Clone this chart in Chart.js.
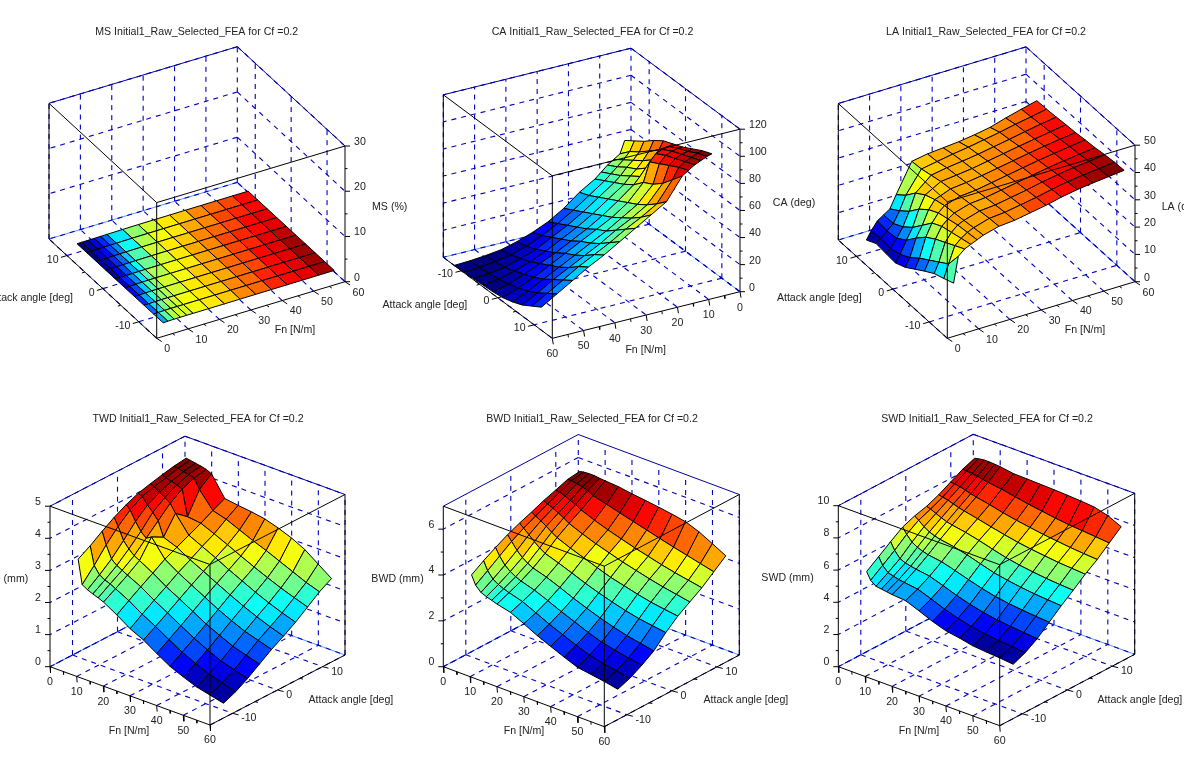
<!DOCTYPE html>
<html>
<head>
<meta charset="utf-8">
<title>Initial1_Raw_Selected_FEA</title>
<script src="https://cdn.jsdelivr.net/npm/chart.js@4/dist/chart.umd.min.js"></script>
<style>
html, body { margin: 0; padding: 0; background: #fff; overflow: hidden; }
canvas { display: block; }
</style>
</head>
<body>
<canvas id="surfaces" width="1184" height="774"></canvas>
<script>
// grid of the surfaces
const fnValues = [5.5, 7, 9, 11, 13, 15, 20, 25, 30, 35, 40, 45, 50, 55, 60];
const angleValues = [-12, -9.33, -6.67, -4, -1.33, 1.33, 4, 6.67, 9.33, 12];

// tick labels
const fnTicks = [0, 10, 20, 30, 40, 50, 60];
const angleTicks = [-10, 0, 10];
const msTicks = [0, 10, 20, 30];
const caTicks = [0, 20, 40, 60, 80, 100, 120];
const laTicks = [0, 10, 20, 30, 40, 50];
const twdTicks = [0, 1, 2, 3, 4, 5];
const bwdTicks = [0, 2, 4, 6];
const swdTicks = [0, 2, 4, 6, 8, 10];

// one row per attack angle, one column per Fn value
const msValues = [
  [.09, .126, .168, .174, .18, .186, .192, .201, .216, .228, .24, .255, .264, .279, .3],
  [.072, .102, .15, .168, .174, .18, .189, .201, .213, .225, .24, .252, .264, .279, .3],
  [.054, .081, .126, .156, .168, .174, .186, .198, .21, .225, .237, .252, .264, .276, .3],
  [.039, .06, .096, .135, .156, .168, .183, .195, .21, .222, .237, .249, .261, .276, .3],
  [.027, .045, .075, .111, .141, .159, .18, .192, .207, .219, .234, .249, .261, .273, .285],
  [.021, .033, .057, .09, .12, .144, .174, .189, .204, .216, .231, .246, .258, .27, .279],
  [.015, .027, .045, .072, .099, .126, .165, .186, .201, .213, .228, .24, .252, .264, .273],
  [.012, .021, .036, .057, .081, .108, .156, .18, .195, .21, .222, .237, .249, .258, .27],
  [.009, .018, .03, .048, .069, .09, .144, .171, .186, .201, .216, .228, .24, .252, .264],
  [.006, .018, .03, .042, .06, .078, .132, .165, .18, .195, .21, .222, .234, .246, .258]
];
const caValues = [
  [61, 52, 49, 46, 42, 38, 31, 22, 15, 10, 6, 3, 1.5, .5, 0],
  [66, 59, 54, 50, 46, 42, 34, 26, 19, 13, 8, 4.5, 2.3, 1, .4],
  [71, 64, 59, 55, 50, 46, 38, 30, 23, 17, 11, 7, 3.5, 1.8, .8],
  [77, 70, 64, 59, 55, 50, 42, 34, 27, 21, 15, 10, 6, 3, 1.3],
  [82, 76, 70, 65, 60, 55, 46, 38, 31, 25, 19, 14, 9, 4.5, 1.8],
  [85, 84, 83, 81, 76, 62, 50, 42, 36, 30, 24, 18, 12, 7, 2.8],
  [88, 88, 87, 85, 80, 66, 54, 47, 40, 34, 28, 22, 16, 10, 5],
  [92, 91, 90, 88, 84, 72, 59, 52, 46, 39, 33, 27, 21, 14, 8],
  [96, 95, 93, 91, 88, 80, 65, 58, 52, 45, 39, 33, 26, 19, 12.5],
  [99, 98, 96, 94, 91, 88, 72, 65, 58, 51, 44, 38, 31, 24, 17]
];
const laValues = [
  [14.7, 24, 26, 27, 28, 29, 30.5, 31, 32, 33, 34.3, 35.3, 36, 36.6, 37.2],
  [13.2, 18, 24, 26, 27.5, 28.5, 30.2, 30.7, 31.7, 32.7, 33.9, 35, 35.7, 36.3, 37],
  [11.8, 15.5, 22, 25, 27, 28, 29.7, 30.2, 31.2, 32.2, 33.4, 34.4, 35.2, 35.8, 36.5],
  [9.5, 13, 20, 24, 26, 27.5, 29.2, 29.7, 30.7, 31.7, 32.7, 33.7, 34.5, 35.2, 35.9],
  [7, 10.5, 17.5, 22, 25, 27, 28.7, 29.2, 30.2, 31.2, 32.2, 33.2, 34, 34.8, 35.5],
  [4.5, 7.5, 14, 18, 23, 26, 28.2, 28.8, 29.6, 30.6, 31.6, 32.6, 33.5, 34.3, 35],
  [2.9, 5.5, 10, 14, 20, 24.5, 27.7, 28.3, 29, 30, 31, 32, 32.9, 33.8, 34.7],
  [3.2, 4.5, 7.5, 11, 16, 22, 26.8, 27.8, 28.5, 29.3, 30.3, 31.3, 32.4, 33.4, 34.3],
  [3.6, 5, 7, 9, 13, 18, 25.9, 26.9, 27.9, 28.7, 29.7, 30.7, 31.9, 32.9, 34],
  [1.7, 4.5, 7.5, 9, 10.5, 15, 25.5, 26.5, 27, 27.5, 28.3, 29.3, 31, 32.5, 33.9]
];
const twdValues = [
  [3.3, 2.55, 2.45, 2.38, 2.32, 2.25, 2.0, 1.72, 1.52, 1.25, 1.0, .82, .66, .56, .46],
  [3.52, 2.95, 2.72, 2.62, 2.56, 2.47, 2.25, 1.98, 1.75, 1.49, 1.25, 1.05, .88, .75, .62],
  [3.78, 3.4, 3.02, 2.88, 2.79, 2.7, 2.49, 2.22, 1.98, 1.73, 1.49, 1.28, 1.09, .96, .84],
  [4.02, 3.78, 3.4, 3.2, 3.05, 2.96, 2.72, 2.45, 2.22, 1.98, 1.74, 1.54, 1.35, 1.22, 1.1],
  [4.22, 4.1, 3.8, 3.55, 3.4, 3.5, 2.96, 2.69, 2.46, 2.23, 2.0, 1.8, 1.62, 1.49, 1.36],
  [4.38, 4.33, 4.12, 3.95, 3.75, 3.3, 3.14, 2.9, 2.69, 2.47, 2.26, 2.06, 1.88, 1.72, 1.58],
  [4.48, 4.44, 4.32, 4.22, 4.1, 3.85, 3.32, 3.12, 2.92, 2.7, 2.5, 2.3, 2.12, 1.96, 1.82],
  [4.57, 4.52, 4.47, 4.42, 4.35, 3.55, 3.5, 3.32, 3.13, 2.93, 2.74, 2.56, 2.39, 2.24, 2.1],
  [4.65, 4.62, 4.58, 4.55, 4.5, 4.2, 3.7, 3.58, 3.4, 3.22, 3.06, 2.88, 2.7, 2.52, 2.38],
  [4.7, 4.68, 4.65, 4.62, 4.58, 4.5, 3.88, 3.82, 3.77, 3.7, 3.57, 3.41, 3.2, 2.9, 2.6]
];
const bwdValues = [
  [3.93, 3.55, 3.32, 3.22, 3.15, 3.07, 2.93, 2.65, 2.35, 2.1, 1.85, 1.62, 1.53, 1.44, 1.32],
  [4.27, 3.9, 3.62, 3.47, 3.37, 3.29, 3.12, 2.85, 2.57, 2.33, 2.09, 1.87, 1.73, 1.62, 1.52],
  [4.57, 4.26, 3.95, 3.76, 3.62, 3.52, 3.34, 3.1, 2.84, 2.61, 2.37, 2.17, 2.03, 1.91, 1.81],
  [4.85, 4.62, 4.32, 4.09, 3.93, 3.81, 3.63, 3.4, 3.15, 2.93, 2.72, 2.54, 2.39, 2.27, 2.16],
  [5.08, 4.92, 4.72, 4.5, 4.32, 4.17, 3.97, 3.75, 3.52, 3.32, 3.14, 2.98, 2.85, 2.76, 2.68],
  [5.28, 5.17, 5.05, 4.9, 4.73, 4.58, 4.34, 4.13, 3.92, 3.72, 3.57, 3.42, 3.29, 3.2, 3.12],
  [5.5, 5.42, 5.32, 5.2, 5.07, 4.92, 4.68, 4.47, 4.29, 4.11, 3.96, 3.81, 3.68, 3.57, 3.46],
  [5.68, 5.65, 5.57, 5.47, 5.38, 5.23, 5.0, 4.8, 4.62, 4.45, 4.3, 4.15, 4.02, 3.91, 3.8],
  [5.87, 5.88, 5.84, 5.78, 5.71, 5.58, 5.42, 5.26, 5.1, 4.95, 4.79, 4.64, 4.5, 4.36, 4.22],
  [5.94, 5.98, 6.0, 6.0, 5.97, 5.95, 5.91, 5.82, 5.75, 5.67, 5.58, 5.47, 5.25, 4.95, 4.64]
];
const swdValues = [
  [5.8, 5.35, 5.1, 5.05, 5.0, 4.95, 4.88, 4.55, 4.2, 3.92, 3.78, 3.6, 3.52, 3.46, 3.37],
  [6.33, 5.88, 5.55, 5.45, 5.37, 5.31, 5.2, 4.9, 4.57, 4.3, 4.1, 3.95, 3.85, 3.77, 3.7],
  [6.87, 6.42, 6.03, 5.88, 5.8, 5.74, 5.61, 5.33, 5.03, 4.78, 4.58, 4.43, 4.33, 4.25, 4.17],
  [7.38, 7.02, 6.66, 6.46, 6.33, 6.24, 6.11, 5.87, 5.61, 5.37, 5.17, 5.04, 4.94, 4.86, 4.8],
  [7.68, 7.5, 7.22, 7.02, 6.89, 6.8, 6.66, 6.45, 6.2, 5.95, 5.79, 5.66, 5.56, 5.49, 5.43],
  [7.88, 7.8, 7.65, 7.5, 7.38, 7.3, 7.15, 6.95, 6.72, 6.5, 6.34, 6.22, 6.12, 6.05, 6.0],
  [8.2, 8.15, 8.08, 7.97, 7.86, 7.78, 7.6, 7.4, 7.22, 7.05, 6.92, 6.82, 6.72, 6.66, 6.6],
  [8.6, 8.58, 8.52, 8.43, 8.33, 8.25, 8.08, 7.88, 7.72, 7.58, 7.45, 7.35, 7.25, 7.18, 7.12],
  [9.0, 8.98, 8.95, 8.9, 8.83, 8.76, 8.65, 8.48, 8.33, 8.2, 8.07, 7.97, 7.9, 7.83, 7.75],
  [9.29, 9.35, 9.4, 9.4, 9.38, 9.35, 9.22, 9.2, 9.17, 9.14, 9.1, 9.05, 8.98, 8.75, 8.37]
];

const FN_MIN = 0, FN_MAX = 60, ANGLE_MIN = -15, ANGLE_MAX = 15;

// box = page position of (Fn 0, angle -15), (Fn 60, angle -15), (Fn 0, angle 15), height of the z range
const panels = [
  { values: msValues, zTicks: msTicks, zMax: 30, box: [156.7, 338.3, 345, 281.7, 49, 239, 135.7],
    nearFn: 0, nearAngle: -15, zAxisFn: 60, zAxisAngle: -15, zSide: 1,
    fnTick: [5, 3.3], angleTick: [-6, 1.8], fnLabel: [7.5, 11, 'left'], angleLabel: [-8.3, 4.2, 'right'],
    title: ['MS Initial1_Raw_Selected_FEA for Cf =0.2', 196.7, 31.7],
    fnName: [295, 330], angleName: [73, 297.7, 'right'], zName: ['MS (%)', 389.7, 206.7, 'center'] },
  { values: caValues, zTicks: caTicks, zMax: 120, box: [631, 210.7, 443.3, 257.3, 740, 291.7, 162.5],
    nearFn: 60, nearAngle: 15, zAxisFn: 0, zAxisAngle: 15, zSide: 1,
    fnTick: [1, 6], angleTick: [-6, 1.5], fnLabel: [0, 16, 'center'], angleLabel: [-8.5, 3, 'right'],
    title: ['CA Initial1_Raw_Selected_FEA for Cf =0.2', 592.5, 31.7],
    fnName: [645.7, 350], angleName: [467.3, 305, 'right'], zName: ['CA (deg)', 794, 202.7, 'center'] },
  { values: laValues, zTicks: laTicks, zMax: 50, box: [947.3, 338.3, 1135, 281.7, 838.3, 240, 136.5],
    nearFn: 0, nearAngle: -15, zAxisFn: 60, zAxisAngle: -15, zSide: 1,
    colorKnots: [[0, 0], [.5, .5], [.67, .67], [.82, .73], [.93, .87], [1, 1]],
    fnTick: [5, 3.3], angleTick: [-6, 1.8], fnLabel: [7.5, 11, 'left'], angleLabel: [-8.7, 4.2, 'right'],
    title: ['LA Initial1_Raw_Selected_FEA for Cf =0.2', 986, 31.7],
    fnName: [1085, 330], angleName: [861.7, 297.7, 'right'], zName: ['LA (deg)', 1161.7, 206.7, 'left'] },
  { values: twdValues, zTicks: twdTicks, zMax: 5, box: [50, 666.7, 210, 725, 185, 596.7, 160.5],
    nearFn: 60, nearAngle: -15, zAxisFn: 0, zAxisAngle: -15, zSide: -1,
    fnTick: [.5, 6], angleTick: [6, 1.5], fnLabel: [0, 15.5, 'center'], angleLabel: [8.7, 5, 'left'],
    title: ['TWD Initial1_Raw_Selected_FEA for Cf =0.2', 198, 418.7],
    fnName: [129, 730.7], angleName: [393.3, 700, 'right'], zName: ['TWD (mm)', 28.3, 579, 'right'] },
  { values: bwdValues, zTicks: bwdTicks, zMax: 7, box: [443.3, 666.7, 604.3, 726.7, 578.3, 595, 160.5],
    nearFn: 60, nearAngle: -15, zAxisFn: 0, zAxisAngle: -15, zSide: -1,
    fnTick: [.5, 6], angleTick: [6, 1.5], fnLabel: [0, 15.5, 'center'], angleLabel: [8.7, 5, 'left'],
    title: ['BWD Initial1_Raw_Selected_FEA for Cf =0.2', 592, 418.7],
    fnName: [524, 730.7], angleName: [788.3, 700, 'right'], zName: ['BWD (mm)', 397.5, 579, 'center'] },
  { values: swdValues, zTicks: swdTicks, zMax: 10, box: [838.3, 666.7, 999.7, 725.7, 973.3, 595.3, 161],
    nearFn: 60, nearAngle: -15, zAxisFn: 0, zAxisAngle: -15, zSide: -1,
    fnTick: [.5, 6], angleTick: [6, 1.5], fnLabel: [0, 15.5, 'center'], angleLabel: [8.7, 5, 'left'],
    title: ['SWD Initial1_Raw_Selected_FEA for Cf =0.2', 987, 418.7],
    fnName: [919, 730.7], angleName: [1182.3, 700, 'right'], zName: ['SWD (mm)', 787.5, 578, 'center'] }
];

function project(panel, fn, angle, z) {
  const [ox, oy, fx, fy, ax, ay, h] = panel.box;
  const f = (fn - FN_MIN) / (FN_MAX - FN_MIN);
  const a = (angle - ANGLE_MIN) / (ANGLE_MAX - ANGLE_MIN);
  return {
    x: ox + (fx - ox) * f + (ax - ox) * a,
    y: oy + (fy - oy) * f + (ay - oy) * a - h * z / panel.zMax
  };
}

// scilab jet colormap with 32 steps
function jet(t) {
  const step = Math.min(31, Math.floor(t * 32)) / 31;
  const c = v => Math.round(255 * Math.max(0, Math.min(1, 1.5 - Math.abs(4 * step - v))));
  return `rgb(${c(3)},${c(2)},${c(1)})`;
}

// LA colours do not follow its heights linearly in the picture
function bend(t, knots) {
  if (!knots) return t;
  for (let i = 1; i < knots.length; i++) {
    if (t <= knots[i][0]) {
      const [x0, y0] = knots[i - 1], [x1, y1] = knots[i];
      return y0 + (y1 - y0) * (t - x0) / (x1 - x0);
    }
  }
  return 1;
}

function lineSet(points, color, dash, width) {
  return { data: points, borderColor: color, borderWidth: width || 1, borderDash: dash || [], fill: false, pointRadius: 0, tension: 0 };
}

const GRID = '#0000c0';
const DASH = [5, 5];
const drawn = [];
const texts = [];

panels.forEach(panel => {
  const farFn = panel.nearFn === FN_MIN ? FN_MAX : FN_MIN;
  const farAngle = panel.nearAngle === ANGLE_MIN ? ANGLE_MAX : ANGLE_MIN;
  const p = (fn, angle, z) => project(panel, fn, angle, z);
  const side = (a, b, color, dash, width) => drawn.push(lineSet([a, b], color, dash, width));

  // back walls and floor
  side(p(farFn, farAngle, 0), p(panel.nearFn, farAngle, 0), '#2a7fff', null, .8);
  side(p(farFn, farAngle, 0), p(farFn, panel.nearAngle, 0), '#2a7fff', null, .8);
  fnTicks.forEach(fn => {
    side(p(fn, farAngle, 0), p(fn, farAngle, panel.zMax), GRID, DASH, 1.1);
    side(p(fn, ANGLE_MIN, 0), p(fn, ANGLE_MAX, 0), GRID, DASH, 1.1);
  });
  angleTicks.forEach(angle => {
    side(p(farFn, angle, 0), p(farFn, angle, panel.zMax), GRID, DASH, 1.1);
    side(p(FN_MIN, angle, 0), p(FN_MAX, angle, 0), GRID, DASH, 1.1);
  });
  panel.zTicks.forEach(z => {
    side(p(farFn, farAngle, z), p(panel.nearFn, farAngle, z), GRID, DASH, 1.1);
    side(p(farFn, farAngle, z), p(farFn, panel.nearAngle, z), GRID, DASH, 1.1);
  });
  side(p(farFn, farAngle, panel.zMax), p(panel.nearFn, farAngle, panel.zMax), '#0000a0');
  side(p(farFn, farAngle, panel.zMax), p(farFn, panel.nearAngle, panel.zMax), '#0000a0');
  side(p(panel.nearFn, farAngle, 0), p(panel.nearFn, farAngle, panel.zMax), '#000');
  side(p(farFn, panel.nearAngle, 0), p(farFn, panel.nearAngle, panel.zMax), '#000');

  // surface facets, far ones first
  const all = panel.values.flat();
  const zLow = Math.min(...all), zHigh = Math.max(...all);
  const rows = angleValues.slice(0, -1).map((_, i) => i);
  const cols = fnValues.slice(0, -1).map((_, j) => j);
  if (panel.nearAngle === ANGLE_MIN) rows.reverse();
  if (panel.nearFn === FN_MIN) cols.reverse();
  rows.forEach(i => cols.forEach(j => {
    const v = panel.values;
    const mean = (v[i][j] + v[i][j + 1] + v[i + 1][j] + v[i + 1][j + 1]) / 4;
    const a = p(fnValues[j], angleValues[i], v[i][j]);
    const b = p(fnValues[j + 1], angleValues[i], v[i][j + 1]);
    const c = p(fnValues[j + 1], angleValues[i + 1], v[i + 1][j + 1]);
    const d = p(fnValues[j], angleValues[i + 1], v[i + 1][j]);
    drawn.push({
      data: [a, b, c, d, a], fill: 'shape',
      backgroundColor: jet(bend((mean - zLow) / (zHigh - zLow), panel.colorKnots)),
      borderColor: '#000', borderWidth: 1, pointRadius: 0, tension: 0
    });
  }));

  // near edges of the box go over the surface
  const nearTop = p(panel.nearFn, panel.nearAngle, panel.zMax);
  side(p(panel.nearFn, panel.nearAngle, 0), nearTop, '#000');
  side(nearTop, p(farFn, panel.nearAngle, panel.zMax), '#000');
  side(nearTop, p(panel.nearFn, farAngle, panel.zMax), '#000');
  side(p(panel.nearFn, panel.nearAngle, 0), p(farFn, panel.nearAngle, 0), '#000');
  side(p(panel.nearFn, panel.nearAngle, 0), p(panel.nearFn, farAngle, 0), '#000');

  // ticks and labels
  const tick = (from, dir, scale) => side(from, { x: from.x + dir[0] * scale, y: from.y + dir[1] * scale }, '#000');
  const label = (text, at, spec) => texts.push({ text: String(text), x: at.x + spec[0], y: at.y + spec[1], align: spec[2] });

  fnTicks.forEach((fn, i) => {
    const at = p(fn, panel.nearAngle, 0);
    tick(at, panel.fnTick, 1);
    label(fn, at, panel.fnLabel);
    if (i < fnTicks.length - 1) tick(p((fn + fnTicks[i + 1]) / 2, panel.nearAngle, 0), panel.fnTick, .5);
  });
  angleTicks.forEach((angle, i) => {
    const at = p(panel.nearFn, angle, 0);
    tick(at, panel.angleTick, 1);
    label(angle, at, panel.angleLabel);
    if (i < angleTicks.length - 1) tick(p(panel.nearFn, (angle + angleTicks[i + 1]) / 2, 0), panel.angleTick, .5);
  });
  panel.zTicks.forEach((z, i) => {
    const at = p(panel.zAxisFn, panel.zAxisAngle, z);
    tick(at, [5 * panel.zSide, 0], 1);
    label(z, at, panel.zSide > 0 ? [9, -4, 'left'] : [-9, -4.5, 'right']);
    const next = i < panel.zTicks.length - 1 ? panel.zTicks[i + 1] : null;
    if (next !== null) tick(p(panel.zAxisFn, panel.zAxisAngle, (z + next) / 2), [5 * panel.zSide, 0], .5);
  });
  texts.push({ text: panel.title[0], x: panel.title[1], y: panel.title[2], align: 'center' });
  texts.push({ text: 'Fn [N/m]', x: panel.fnName[0], y: panel.fnName[1], align: 'center' });
  texts.push({ text: 'Attack angle [deg]', x: panel.angleName[0], y: panel.angleName[1], align: panel.angleName[2] });
  texts.push({ text: panel.zName[0], x: panel.zName[1], y: panel.zName[2], align: panel.zName[3] });
});

const textPlugin = {
  id: 'panelTexts',
  afterDraw(chart) {
    const { ctx, scales } = chart;
    ctx.save();
    ctx.font = '10.6px "Liberation Sans"';
    ctx.fillStyle = '#222';
    ctx.textBaseline = 'middle';
    texts.forEach(t => {
      ctx.textAlign = t.align;
      ctx.fillText(t.text, scales.x.getPixelForValue(t.x), scales.y.getPixelForValue(t.y));
    });
    ctx.restore();
  }
};

// chart.js paints the first dataset last
new Chart(document.getElementById('surfaces'), {
  type: 'line',
  data: { datasets: drawn.reverse() },
  plugins: [textPlugin],
  options: {
    responsive: false,
    animation: false,
    devicePixelRatio: 1,
    layout: { padding: 0 },
    scales: {
      x: { type: 'linear', min: 0, max: 1184, display: false },
      y: { type: 'linear', min: 0, max: 774, reverse: true, display: false }
    },
    plugins: { legend: { display: false }, title: { display: false }, tooltip: { enabled: false } }
  }
});
</script>
</body>
</html>
